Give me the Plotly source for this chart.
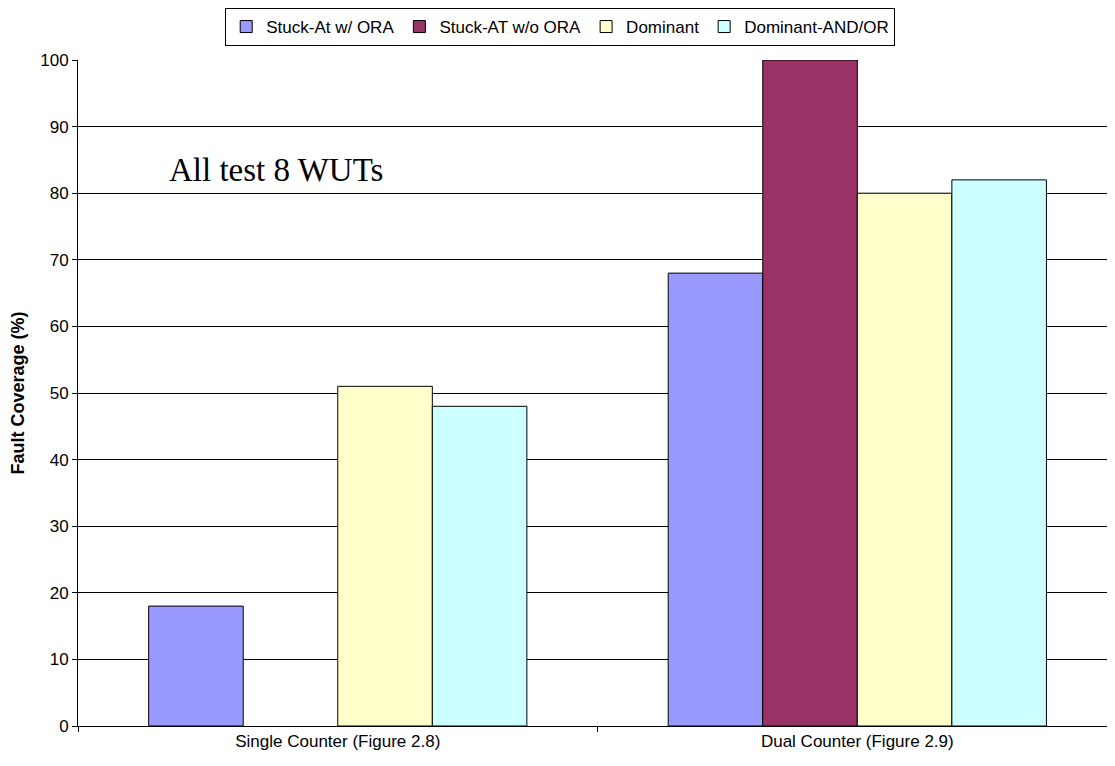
import plotly.graph_objects as go

categories = ["Single Counter (Figure 2.8)", "Dual Counter (Figure 2.9)"]
series_names = ["Stuck-At w/ ORA", "Stuck-AT w/o ORA", "Dominant", "Dominant-AND/OR"]
stuck_at_with_ora = [18, 68]
stuck_at_without_ora = [None, 100]
dominant = [51, 80]
dominant_and_or = [48, 82]
colors = ["#9999FF", "#993366", "#FFFFCC", "#CCFFFF"]
y_ticks = [0, 10, 20, 30, 40, 50, 60, 70, 80, 90, 100]

fig = go.Figure()
for name, vals, col in zip(series_names,
                           [stuck_at_with_ora, stuck_at_without_ora, dominant, dominant_and_or],
                           colors):
    fig.add_trace(go.Bar(
        x=categories, y=vals, name=name,
        marker=dict(color=col, line=dict(color="black", width=1)),
    ))

fig.update_layout(
    width=1107, height=758,
    margin=dict(l=70, r=0, t=52, b=40),
    plot_bgcolor="white", paper_bgcolor="white",
    barmode="group", bargap=0.272, bargroupgap=0,
    font=dict(family="Liberation Sans, Arial, sans-serif", size=17, color="black"),
    legend=dict(
        orientation="h", x=0.465, xanchor="center",
        yref="container", y=1.0, yanchor="top",
        bordercolor="black", borderwidth=1,
        font=dict(size=17), itemwidth=30, tracegroupgap=0,
        itemclick=False,
    ),
    showlegend=True,
)
fig.update_xaxes(
    type="category", range=[-0.5, 1.496],
    showline=True, linecolor="black", linewidth=1,
    ticks="outside", tickson="boundaries", ticklen=5, tickcolor="black",
    showgrid=False, tickfont=dict(size=17),
)
fig.update_yaxes(
    range=[0, 100], tickvals=y_ticks,
    showline=True, linecolor="black", linewidth=1,
    ticks="outside", ticklen=5, tickcolor="black",
    showgrid=True, gridcolor="black", gridwidth=1,
    zeroline=False, tickfont=dict(size=17),
    title=dict(text="<b>Fault Coverage (%)</b>", font=dict(size=18), standoff=10),
)
fig.add_annotation(
    x=0.191, xref="paper", xanchor="center", y=83.5, yref="y",
    text="All test 8 WUTs", showarrow=False,
    font=dict(family="Liberation Serif, Times New Roman, serif", size=33, color="black"),
)
fig.write_html("out.html")
